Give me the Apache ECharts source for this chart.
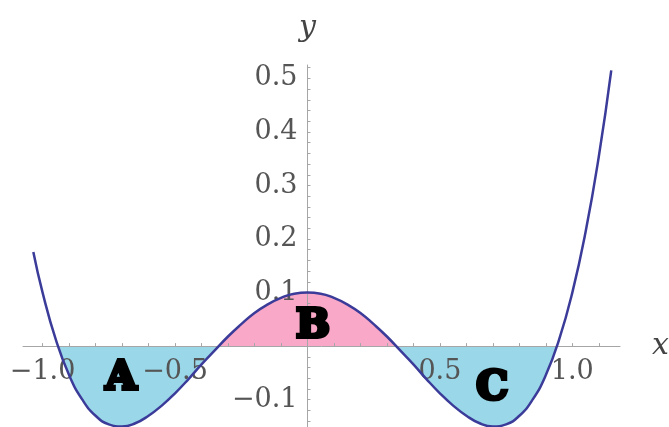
<!DOCTYPE html>
<html>
<head>
<meta charset="utf-8">
<style>
  html, body { margin: 0; padding: 0; background: #ffffff; }
  #chart { width: 669px; height: 427px; }
</style>
<script src="https://cdn.jsdelivr.net/npm/echarts@6/dist/echarts.min.js"></script>
</head>
<body>
<div id="chart"></div>
<script>
// Curve samples (x, y)
var curveX = [-1.035, -1.0, -0.95, -0.9, -0.85, -0.8, -0.75, -0.7, -0.65, -0.6, -0.55, -0.5, -0.45, -0.4, -0.35, -0.3, -0.25, -0.2, -0.15, -0.1, -0.05, 0,
              0.05, 0.1, 0.15, 0.2, 0.25, 0.3, 0.35, 0.4, 0.45, 0.5, 0.55, 0.6, 0.65, 0.7, 0.75, 0.8, 0.85, 0.9, 0.95, 1.0, 1.05, 1.1, 1.147];
var curveY = [0.176, 0.100, 0.012, -0.054, -0.100, -0.130, -0.146, -0.150, -0.144, -0.130, -0.111, -0.088, -0.062, -0.034, -0.008, 0.018, 0.041, 0.062, 0.078, 0.090, 0.098, 0.100,
              0.098, 0.090, 0.078, 0.062, 0.041, 0.018, -0.008, -0.034, -0.062, -0.088, -0.111, -0.130, -0.144, -0.150, -0.146, -0.130, -0.100, -0.054, 0.012, 0.100, 0.213, 0.354, 0.515];

// Zero crossings bounding the shaded regions A, B, C
var regionNames = ['A', 'B', 'C'];
var regionFrom  = [-0.942, -0.336, 0.336];
var regionTo    = [-0.336, 0.336, 0.942];
var regionLabelX = [-0.704, 0.021, 0.697];
var regionLabelY = [-0.060, 0.037, -0.080];

// Tick labels
var xTickLabels = [-1.0, -0.5, 0.5, 1.0];
var yTickLabels = [-0.1, 0.1, 0.2, 0.3, 0.4, 0.5];

var blueFill = '#9ad8e9';
var pinkFill = '#f9a9c7';
var regionColors = [blueFill, pinkFill, blueFill];
var curveColor = '#3b3b99';
var axisColor = '#a6a6a6';
var labelColor = '#555555';
var serif = '"DejaVu Serif", "Liberation Serif", serif';

var W = 669, H = 427;
var gridBox = { left: 23, right: 49, top: 65, bottom: 0 };

function pairs(xs, ys) {
  return xs.map(function (x, i) { return [x, ys[i]]; });
}

function regionData(from, to) {
  var pts = [[from, 0]];
  curveX.forEach(function (x, i) {
    if (x > from && x < to) pts.push([x, curveY[i]]);
  });
  pts.push([to, 0]);
  return pts;
}

function range(a, b, step) {
  var out = [];
  for (var v = a; v <= b + 1e-9; v += step) out.push(Math.round(v * 1000) / 1000);
  return out;
}

function fmt(v) {
  return v.toFixed(1).replace('-', '\u2212');
}

var fillSeries = regionNames.map(function (name, i) {
  return {
    type: 'line',
    name: 'fill' + name,
    data: regionData(regionFrom[i], regionTo[i]),
    smooth: true,
    symbol: 'none',
    lineStyle: { width: 0, opacity: 0 },
    areaStyle: { color: regionColors[i], opacity: 1, origin: 0 },
    silent: true,
    z: 1
  };
});

var chart = echarts.init(document.getElementById('chart'), null, { renderer: 'canvas' });

chart.setOption({
  animation: false,
  backgroundColor: '#ffffff',
  grid: {
    left: gridBox.left, right: gridBox.right, top: gridBox.top, bottom: gridBox.bottom,
    containLabel: false,
    outerBoundsMode: 'none'
  },
  xAxis: {
    type: 'value',
    min: -1.074,
    max: 1.18,
    position: 'bottom',
    offset: 0,
    z: 2,
    name: 'x',
    nameLocation: 'end',
    nameGap: 32,
    nameTextStyle: { fontFamily: serif, fontStyle: 'italic', fontSize: 30, color: '#444444' },
    axisLine: { onZero: false, lineStyle: { color: axisColor, width: 1 } },
    axisTick: { show: true, inside: true, length: 3, customValues: range(-1.0, 1.1, 0.1), lineStyle: { color: axisColor } },
    axisLabel: {
      customValues: xTickLabels,
      formatter: fmt,
      fontFamily: serif,
      fontSize: 27,
      color: labelColor,
      margin: 12
    },
    splitLine: { show: false }
  },
  yAxis: {
    type: 'value',
    min: -0.151,
    max: 0.525,
    position: 'left',
    offset: 0,
    z: 2,
    name: 'y',
    nameLocation: 'end',
    nameGap: 22,
    nameTextStyle: { fontFamily: serif, fontStyle: 'italic', fontSize: 30, color: '#444444' },
    axisLine: { onZero: false, lineStyle: { color: axisColor, width: 1 } },
    axisTick: { show: true, inside: true, length: 3, customValues: range(-0.14, 0.52, 0.02), lineStyle: { color: axisColor } },
    axisLabel: {
      customValues: yTickLabels,
      formatter: fmt,
      fontFamily: serif,
      fontSize: 27,
      color: labelColor,
      margin: 10
    },
    splitLine: { show: false }
  },
  series: fillSeries.concat([
    {
      type: 'line',
      name: 'curve',
      data: pairs(curveX, curveY),
      smooth: true,
      symbol: 'none',
      lineStyle: { color: curveColor, width: 2.5 },
      z: 3
    },
    {
      type: 'scatter',
      name: 'regions',
      data: regionNames.map(function (n, i) { return [regionLabelX[i], regionLabelY[i], n]; }),
      symbolSize: 0,
      itemStyle: { color: '#000000', opacity: 1 },
      label: {
        show: true,
        position: 'inside',
        formatter: function (p) { return p.value[2]; },
        fontFamily: serif,
        fontWeight: 'bold',
        fontSize: 40,
        color: '#000000',
        opacity: 1,
        textBorderColor: '#000000',
        textBorderWidth: 4
      },
      emphasis: { disabled: true },
      silent: true,
      z: 4
    }
  ])
});

// Move both axes (with their labels) so they cross at the origin.
var origin = chart.convertToPixel({ gridIndex: 0 }, [0, 0]);
chart.setOption({
  xAxis: { offset: origin[1] - (H - gridBox.bottom) },
  yAxis: { offset: gridBox.left - origin[0] }
});
</script>
</body>
</html>
